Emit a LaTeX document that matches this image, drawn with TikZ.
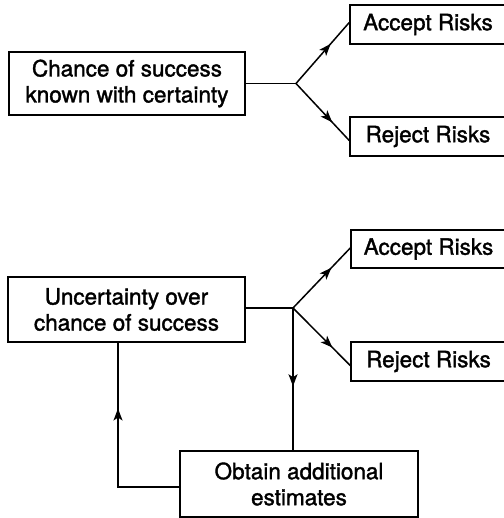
\documentclass[tikz,border=0pt]{standalone}
\usepackage{fontspec}
\newfontfamily\boxfont{TeX Gyre Heros}[FakeBold=1.5]
\usetikzlibrary{arrows.meta,decorations.markings,calc}
\tikzset{
  box/.style={draw, line width=1.5pt, rectangle, inner sep=0pt, align=center,
    font=\boxfont\fontsize{22.5}{26}\selectfont},
  conn/.style={line width=1.5pt},
  midarrow/.style={postaction={decorate}, decoration={markings,
    mark=at position #1 with {\arrow{Stealth[length=12pt,width=9pt,inset=3pt]}}}}
}
\begin{document}
\begin{tikzpicture}[x=1pt,y=-1pt]
\useasboundingbox (0,0) rectangle (503,518);
% top part
\node[box, minimum width=236pt, minimum height=63pt] (c1) at (127,83.5) {Chance of success\\known with certainty};
\node[box, minimum width=156pt, minimum height=39pt] (a1) at (428,24.5) {Accept Risks};
\node[box, minimum width=156pt, minimum height=39pt] (r1) at (428,136.5) {Reject Risks};
\coordinate (f1) at (296,83.5);
\draw[conn] (c1.east) -- (f1);
\draw[conn, midarrow=0.65] (f1) -- ($(a1.west)+(0,-2)$);
\draw[conn, midarrow=0.68] (f1) -- ($(r1.west)+(0,4)$);
% bottom part
\node[box, minimum width=237pt, minimum height=65pt] (c2) at (126.5,309.5) {Uncertainty over\\chance of success};
\node[box, minimum width=155pt, minimum height=38pt] (a2) at (428.5,249) {Accept Risks};
\node[box, minimum width=155pt, minimum height=39pt] (r2) at (428.5,361.5) {Reject Risks};
\node[box, minimum width=238pt, minimum height=66pt] (o) at (299,484) {Obtain additional\\estimates};
\coordinate (f2) at (293,308);
\coordinate (lp) at (118,487);
\draw[conn] (c2.east |- f2) -- (f2);
\draw[conn, midarrow=0.67] (f2) -- ($(a2.west)+(0,-1)$);
\draw[conn, midarrow=0.69] (f2) -- ($(r2.west)+(0,4)$);
\draw[conn, midarrow=0.55] (f2) -- (f2 |- o.north);
\draw[conn, midarrow=0.68] (o.west |- lp) -- (lp) -- (lp |- c2.south);
\end{tikzpicture}
\end{document}
